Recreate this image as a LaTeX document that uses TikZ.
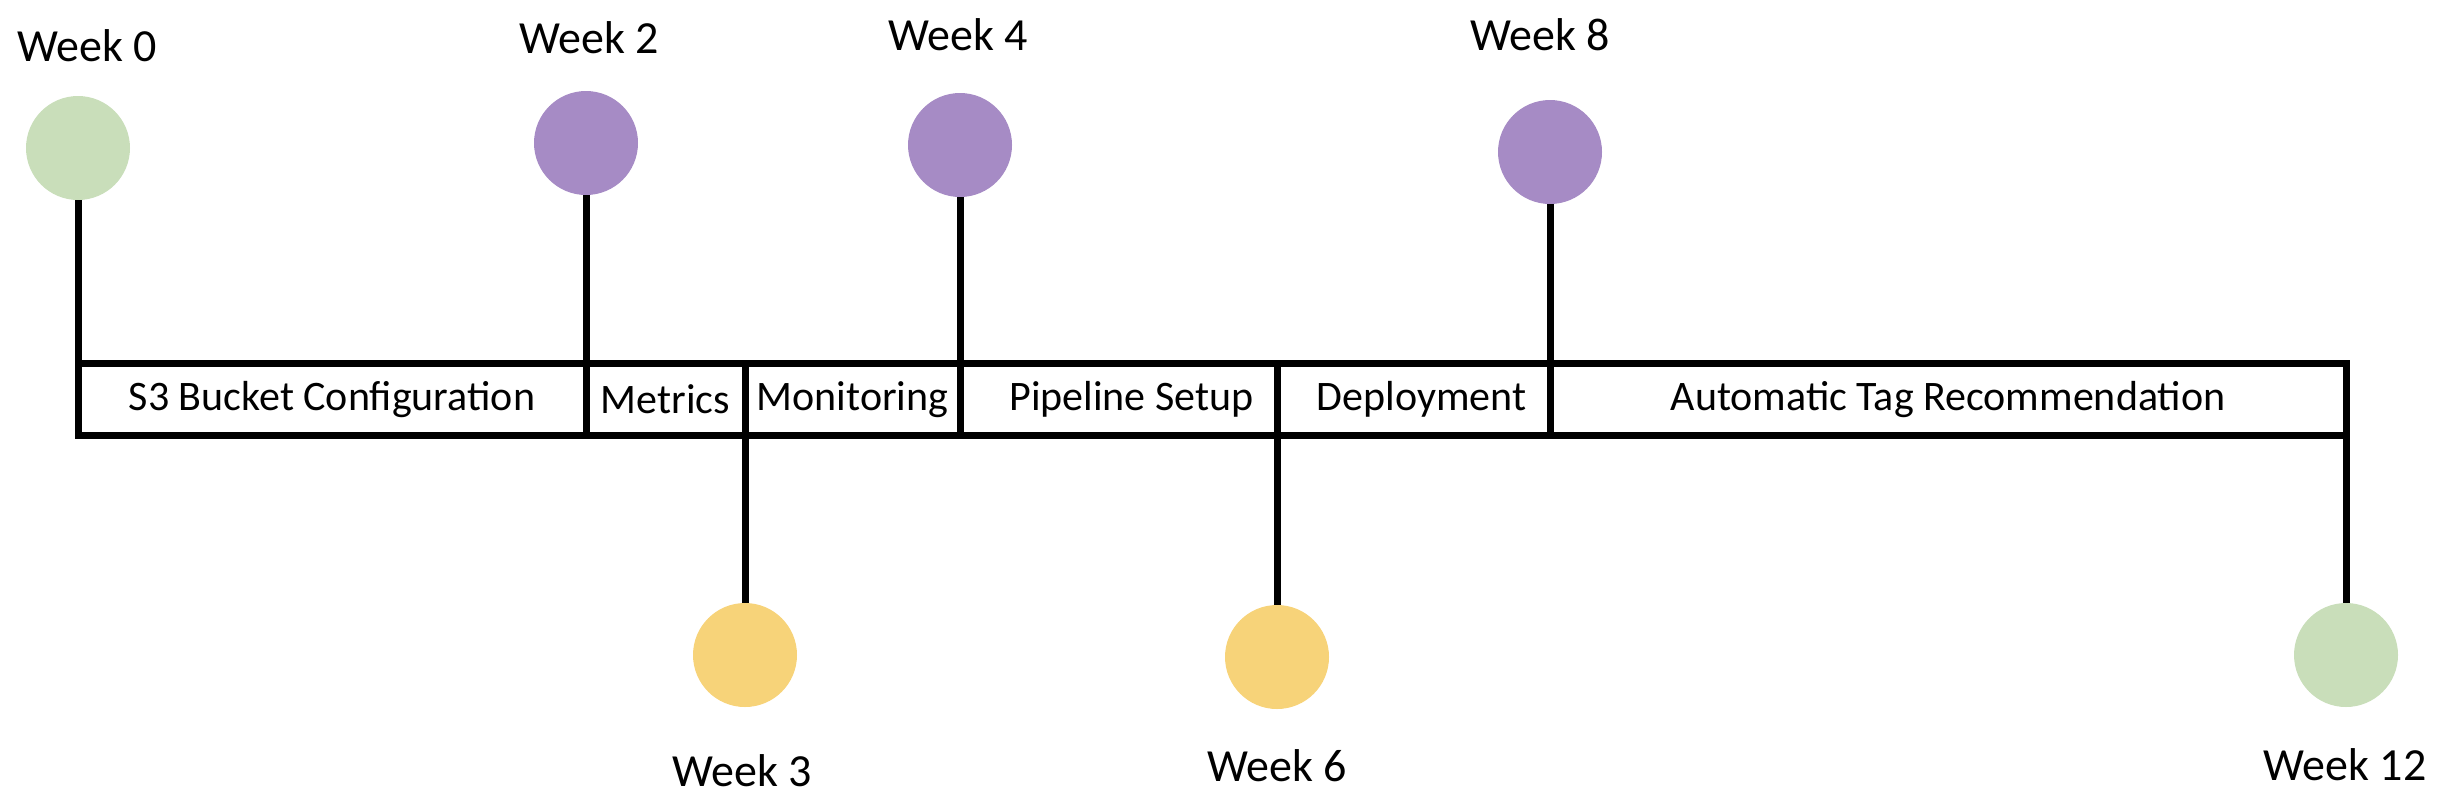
\documentclass[tikz,border=0pt]{standalone}
\usepackage{fontspec}
\setmainfont{Carlito}
\definecolor{cgreen}{HTML}{C9DEBA}
\definecolor{cpurple}{HTML}{A68BC5}
\definecolor{cyellow}{HTML}{F7D379}
\begin{document}
\begin{tikzpicture}[x=0.5pt,y=-0.5pt,
  dot/.style={circle,minimum size=52pt,inner sep=0pt,outer sep=0pt},
  seg/.style={draw=black,line width=3.5pt,minimum height=36pt,inner sep=0pt,outer sep=0pt,
              font=\fontsize{21}{25}\selectfont},
  stem/.style={draw=black,line width=3.5pt},
  wk/.style={font=\fontsize{23}{27}\selectfont,inner sep=0pt}]
\useasboundingbox (0,0) rectangle (2446,800);
% segments
\node[seg,minimum width=254pt]  (s1) at (332,399.5)    {S3 Bucket Configuration};
\node[seg,minimum width=79.5pt] (s2) at (665.5,399.5)  {Metrics};
\node[seg,minimum width=107.5pt](s3) at (852.5,399.5)  {Monitoring};
\node[seg,minimum width=158.5pt](s4) at (1118.5,399.5) {\hspace*{13pt}Pipeline Setup};
\node[seg,minimum width=136.5pt](s5) at (1413.5,399.5) {\hspace*{8pt}Deployment};
\node[seg,minimum width=398pt]  (s6) at (1948,399.5)   {Automatic Tag Recommendation};
% milestones
\node[dot,fill=cgreen]  (w0)  at (78,148)   {};
\node[dot,fill=cpurple] (w2)  at (586,143)  {};
\node[dot,fill=cpurple] (w4)  at (960,145)  {};
\node[dot,fill=cpurple] (w8)  at (1550,152) {};
\node[dot,fill=cyellow] (w3)  at (745,655)  {};
\node[dot,fill=cyellow] (w6)  at (1277,657) {};
\node[dot,fill=cgreen]  (w12) at (2346,655) {};
% stems
\draw[stem] (w0.south) -- (s1.north west);
\draw[stem] (w2.south) -- (s2.north west);
\draw[stem] (w4.south) -- (s4.north west);
\draw[stem] (w8.south) -- (s6.north west);
\draw[stem] (s3.south west) -- (w3.north);
\draw[stem] (s5.south west) -- (w6.north);
\draw[stem] (s6.south east) -- (w12.north);
% labels
\node[wk] (l0)  at (87,46)    {Week 0};
\node[wk] (l2)  at (589,38)   {Week 2};
\node[wk] (l4)  at (958,35)   {Week 4};
\node[wk] (l8)  at (1540,35)  {Week 8};
\node[wk] (l3)  at (742,771)  {Week 3};
\node[wk] (l6)  at (1277,766) {Week 6};
\node[wk] (l12) at (2345,765) {Week 12};
\end{tikzpicture}
\end{document}
